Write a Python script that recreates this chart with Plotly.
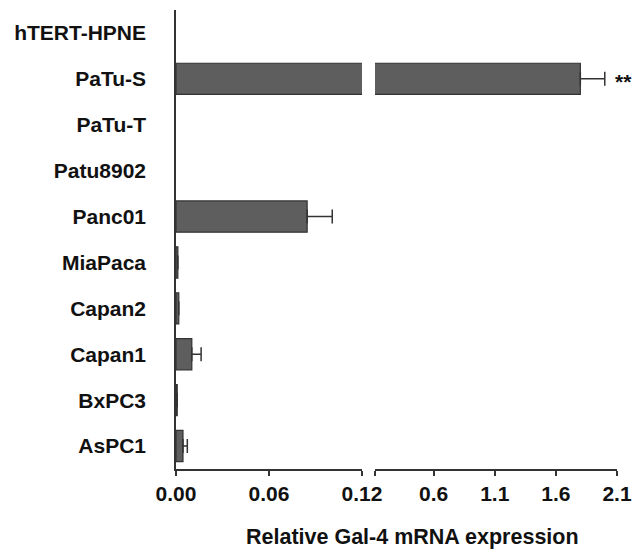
import plotly.graph_objects as go

categories = ["hTERT-HPNE", "PaTu-S", "PaTu-T", "Patu8902", "Panc01",
              "MiaPaca", "Capan2", "Capan1", "BxPC3", "AsPC1"]
values = [0.0, 1.80, 0.0, 0.0, 0.0846, 0.0012, 0.0018, 0.0102, 0.0008, 0.0045]
errors = [0.0, 0.20, 0.0, 0.0, 0.0162, 0.0, 0.0, 0.0060, 0.0, 0.0028]
left_ticks = [0.0, 0.06, 0.12]
left_ticktext = ["0.00", "0.06", "0.12"]
right_ticks = [0.12, 0.6, 1.1, 1.6, 2.1]
right_ticktext = ["", "0.6", "1.1", "1.6", "2.1"]
BREAK = 0.12
XMAX = 2.1
signif = {"PaTu-S": "**"}

FONT = "Liberation Sans, Arial, sans-serif"
FS = 21
BAR = "#5e5e5e"
LINE = "#333333"

# left panel: every non-zero bar; error bars only where they end before the break
lo = [(c, v, e) for c, v, e in zip(categories, values, errors) if v > 0]
lo_cats = [c for c, v, e in lo]
lo_vals = [v for c, v, e in lo]
lo_errs = [e if (e > 0 and v + e <= BREAK) else None for c, v, e in lo]
# right panel: bars that cross the axis break
hi_cats = [c for c, v in zip(categories, values) if v > BREAK]
hi_vals = [v for v in values if v > BREAK]
hi_errs = [e for v, e in zip(values, errors) if v > BREAK]

fig = go.Figure()
fig.add_trace(go.Bar(
    y=lo_cats, x=lo_vals, orientation="h", width=0.68,
    marker=dict(color=BAR, line=dict(color=LINE, width=1.2)),
    error_x=dict(type="data", array=lo_errs, symmetric=False, arrayminus=[0]*len(lo_vals),
                 color=LINE, thickness=1.5, width=7),
    xaxis="x", yaxis="y", showlegend=False))
fig.add_trace(go.Bar(
    y=hi_cats, x=hi_vals, orientation="h", width=0.68,
    marker=dict(color=BAR, line=dict(color=LINE, width=1.2)),
    error_x=dict(type="data", array=hi_errs, symmetric=False, arrayminus=[0]*len(hi_vals),
                 color=LINE, thickness=1.5, width=7),
    xaxis="x2", yaxis="y", showlegend=False))

for c, v, e in zip(hi_cats, hi_vals, hi_errs):
    if c in signif:
        fig.add_annotation(x=v + e, y=c, xref="x2", yref="y", text="<b>%s</b>" % signif[c],
                           showarrow=False, xanchor="left", xshift=8, yshift=-3,
                           font=dict(family=FONT, size=21, color="#111"))

fig.add_annotation(x=0.537, y=-0.148, xref="paper", yref="paper",
                   text="<b>Relative Gal-4 mRNA expression</b>", showarrow=False,
                   xanchor="center", yanchor="middle",
                   font=dict(family=FONT, size=21.5, color="#111"))

axis_common = dict(showline=True, linecolor=LINE, linewidth=1.5, ticks="outside",
                   ticklen=5, tickcolor=LINE, tickwidth=1.5, showgrid=False,
                   zeroline=False, tickfont=dict(family=FONT, size=FS, color="#111"),
                   ticklabelstandoff=0, automargin=False)

fig.update_layout(
    width=632, height=552,
    margin=dict(l=176, r=15, t=10, b=83),
    paper_bgcolor="white", plot_bgcolor="white",
    barmode="overlay",
    font=dict(family=FONT, color="#111"),
    xaxis=dict(domain=[0, 0.4218], range=[0, BREAK], tickvals=left_ticks,
               ticktext=["<b>%s</b>" % t for t in left_ticktext], anchor="y", **axis_common),
    xaxis2=dict(domain=[0.4512, 1], range=[BREAK, XMAX], tickvals=right_ticks,
                ticktext=["<b>%s</b>" % t for t in right_ticktext], anchor="y", **axis_common),
    yaxis=dict(type="category", categoryorder="array", categoryarray=categories,
               range=[9.5, -0.5],
               showline=True, linecolor=LINE, linewidth=1.5, ticks="outside",
               ticklen=24, tickcolor="rgba(0,0,0,0)", showgrid=False, zeroline=False,
               automargin=False,
               tickvals=categories, ticktext=["<b>%s</b>" % c for c in categories],
               tickfont=dict(family=FONT, size=FS, color="#111")),
)

fig.write_html("out.html", config={"displayModeBar": False},
               post_script="document.body.style.margin='0';document.body.style.overflow='hidden';")
